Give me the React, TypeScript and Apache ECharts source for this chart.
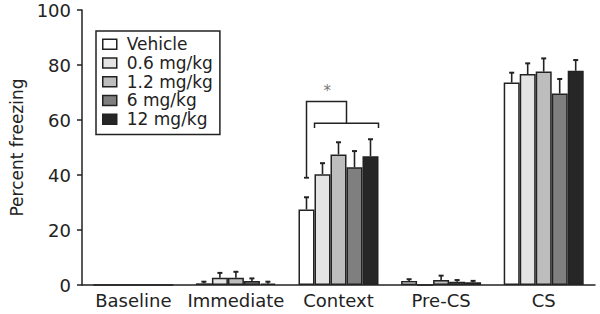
import React, { useEffect, useRef } from "react";
import * as echarts from "echarts";

const categories = ["Baseline", "Immediate", "Context", "Pre-CS", "CS"];
const groups = ["Vehicle", "0.6 mg/kg", "1.2 mg/kg", "6 mg/kg", "12 mg/kg"];
const groupColors = ["#ffffff", "#e4e4e4", "#bdbdbd", "#7f7f7f", "#262626"];

const vehicle = [0, 0.6, 27.5, 1.5, 73.6];
const vehicleErr = [0, 0.6, 4.4, 0.6, 3.6];
const dose06 = [0, 2.6, 40.3, 0, 76.7];
const dose06Err = [0, 1.8, 4.0, 0, 3.9];
const dose12 = [0, 2.6, 47.5, 1.8, 77.6];
const dose12Err = [0, 2.2, 4.4, 1.6, 4.8];
const dose6 = [0, 1.5, 42.8, 1.2, 69.6];
const dose6Err = [0, 0.9, 5.9, 0.6, 5.3];
const dose120 = [0, 0.5, 46.8, 1.0, 77.9];
const dose120Err = [0, 0.7, 6.2, 0.5, 3.9];

const yTicks = [0, 20, 40, 60, 80, 100];

// significance bracket levels (percent freezing) within "Context"
const bracketLevels = [39, 66.7, 58.8, 57.1];
const asteriskLevel = 70.5;

const values = [vehicle, dose06, dose12, dose6, dose120];
const errors = [vehicleErr, dose06Err, dose12Err, dose6Err, dose120Err];

const FONT = "DejaVu Sans";
const INK = "#222";
const BAR_W = 16;

export default function App() {
  const ref = useRef<HTMLDivElement>(null);

  useEffect(() => {
    if (!ref.current) return;
    document.body.style.margin = "0";
    const chart = echarts.init(ref.current, undefined, { renderer: "svg" });

    const barSeries = groups.map((g, i) => ({
      name: g,
      type: "bar",
      data: values[i],
      barWidth: BAR_W,
      barGap: "0%",
      itemStyle: { color: groupColors[i], borderColor: INK, borderWidth: 1.5 },
      z: 2,
    }));

    const errSeries = groups.map((g, i) => ({
      type: "custom",
      z: 3,
      silent: true,
      encode: { x: 0, y: 1 },
      data: values[i].map((v, c) => [c, v, errors[i][c]]),
      renderItem: (params: any, api: any) => {
        const c = api.value(0);
        const v = api.value(1);
        const e = api.value(2);
        if (!e) return null;
        const off = (i - 2) * BAR_W;
        const p0 = api.coord([c, v]);
        const p1 = api.coord([c, v + e]);
        const x = p0[0] + off;
        const style = { stroke: INK, lineWidth: 1.6 };
        return {
          type: "group",
          children: [
            { type: "line", shape: { x1: x, y1: p0[1], x2: x, y2: p1[1] }, style },
            { type: "line", shape: { x1: x - 2.5, y1: p1[1], x2: x + 2.5, y2: p1[1] }, style: { stroke: INK, lineWidth: 2 } },
          ],
        };
      },
    }));

    const bracketSeries = {
      type: "custom",
      z: 4,
      silent: true,
      encode: { x: 0, y: 1 },
      data: [[2, bracketLevels[0]]],
      renderItem: (params: any, api: any) => {
        const c = 2;
        const [from, top, lower, tick] = bracketLevels;
        const cx = api.coord([c, 0])[0];
        const y = (v: number) => api.coord([c, v])[1];
        const xl = cx - 2 * BAR_W;
        const xr = cx + 0.5 * BAR_W;
        const lx1 = cx - 1.5 * BAR_W;
        const lx2 = cx + 2.5 * BAR_W;
        const style = { stroke: INK, lineWidth: 1.5, fill: null };
        return {
          type: "group",
          children: [
            { type: "polyline", shape: { points: [[xl, y(from)], [xl, y(top)], [xr, y(top)], [xr, y(lower)]] }, style },
            { type: "line", shape: { x1: xl - 2.5, y1: y(from), x2: xl + 2.5, y2: y(from) }, style: { stroke: INK, lineWidth: 1.8 } },
            { type: "polyline", shape: { points: [[lx1, y(tick)], [lx1, y(lower)], [lx2, y(lower)], [lx2, y(tick)]] }, style: { stroke: INK, lineWidth: 1.5, fill: null } },
            {
              type: "text",
              x: cx - 0.7 * BAR_W,
              y: y(asteriskLevel),
              style: { text: "*", fill: "#777", font: `15px '${FONT}'`, align: "center", verticalAlign: "middle" },
            },
          ],
        };
      },
    };

    chart.setOption({
      animation: false,
      grid: { left: 81, right: 5, top: 10, bottom: 29, containLabel: false },
      legend: {
        data: groups,
        orient: "vertical",
        left: 96,
        top: 31,
        icon: "rect",
        itemWidth: 14,
        itemHeight: 10,
        itemGap: 0,
        padding: [4, 7, 6, 6],
        borderColor: INK,
        borderWidth: 1.5,
        selectedMode: false,
        itemStyle: { borderColor: INK, borderWidth: 1.5 },
        textStyle: { fontFamily: FONT, fontSize: 17, lineHeight: 18.7, color: INK, padding: [0, 0, 0, 5] },
      },
      xAxis: {
        type: "category",
        data: categories,
        axisLine: { lineStyle: { color: INK, width: 1.5 } },
        axisTick: { show: false },
        axisLabel: { fontFamily: FONT, fontSize: 18, color: INK, margin: 6, interval: 0 },
      },
      yAxis: {
        type: "value",
        min: yTicks[0],
        max: yTicks[yTicks.length - 1],
        interval: 20,
        name: "Percent freezing",
        nameLocation: "middle",
        nameGap: 57,
        nameTextStyle: { fontFamily: FONT, fontSize: 17, color: INK },
        axisLine: { show: true, lineStyle: { color: INK, width: 1.5 } },
        axisTick: { show: true, length: 5, lineStyle: { color: INK, width: 1.5 } },
        axisLabel: { fontFamily: FONT, fontSize: 18, color: INK, margin: 11 },
        splitLine: { show: false },
      },
      series: [...barSeries, ...errSeries, bracketSeries],
    });

    return () => chart.dispose();
  }, []);

  return <div ref={ref} style={{ width: 600, height: 314 }} />;
}
